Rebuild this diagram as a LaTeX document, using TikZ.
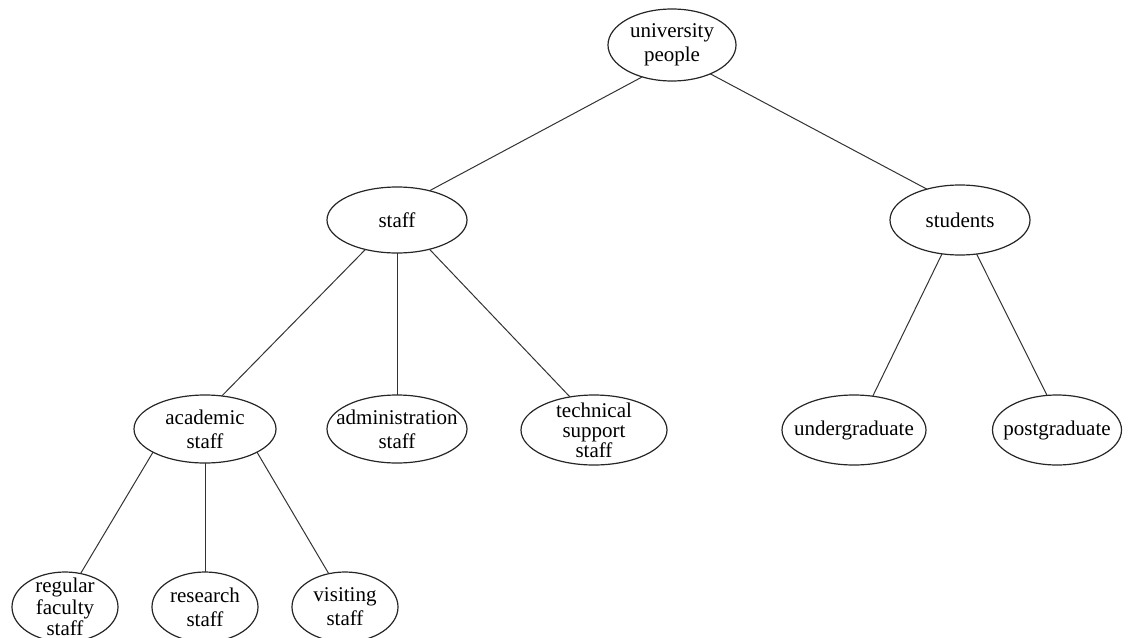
\documentclass[tikz,border=0pt]{standalone}
\usepackage{fontspec}
\setmainfont{Liberation Serif}
\usetikzlibrary{shapes.geometric}
\begin{document}
\begin{tikzpicture}[x=0.5pt,y=-0.5pt,
  ell/.style={ellipse, draw=black!85, line width=0.6pt, align=center, inner xsep=-6pt, inner ysep=-3pt, outer sep=0pt,
    font=\fontsize{10.5}{12}\selectfont},
  link/.style={draw=black!80, line width=0.5pt}]
\useasboundingbox (0,0) rectangle (1129,637);
\clip (0,0) rectangle (1129,637);
\node[ell, minimum width=64pt, minimum height=36pt] (u) at (672,45) {university\\people};
\node[ell, minimum width=70pt, minimum height=33pt] (s) at (397,220) {staff};
\node[ell, minimum width=70pt, minimum height=35pt] (st) at (960,220) {students};
\node[ell, minimum width=71pt, minimum height=34pt] (ac) at (205,429) {academic\\staff};
\node[ell, minimum width=70pt, minimum height=34pt] (ad) at (397,429) {administration\\staff};
\node[ell, minimum width=73pt, minimum height=35pt, font=\fontsize{10.5}{10}\selectfont] (te) at (594,430) {technical\\support\\staff};
\node[ell, minimum width=72pt, minimum height=35pt] (ug) at (854,430) {undergraduate};
\node[ell, minimum width=64.5pt, minimum height=35pt] (pg) at (1057,430) {postgraduate};
\node[ell, minimum width=53pt, minimum height=35pt, font=\fontsize{10.5}{8.5}\selectfont] (rf) at (65,607) {regular\\faculty\\staff};
\node[ell, minimum width=53pt, minimum height=35pt] (rs) at (205,607) {research\\staff};
\node[ell, minimum width=53pt, minimum height=35pt] (vs) at (345,607) {visiting\\staff};
\draw[link] (u.-133) -- (s.42);
\draw[link] (u.-37) -- (st.137);
\draw[link] (s.-137) -- (ac.63);
\draw[link] (s.-90) -- (ad.90);
\draw[link] (s.-42) -- (te.126);
\draw[link] (st.-118) -- (ug.61);
\draw[link] (st.-64) -- (pg.106);
\draw[link] (ac.-156) -- (rf.65);
\draw[link] (ac.-90) -- (rs.90);
\draw[link] (ac.-24) -- (vs.116);
\end{tikzpicture}
\end{document}
